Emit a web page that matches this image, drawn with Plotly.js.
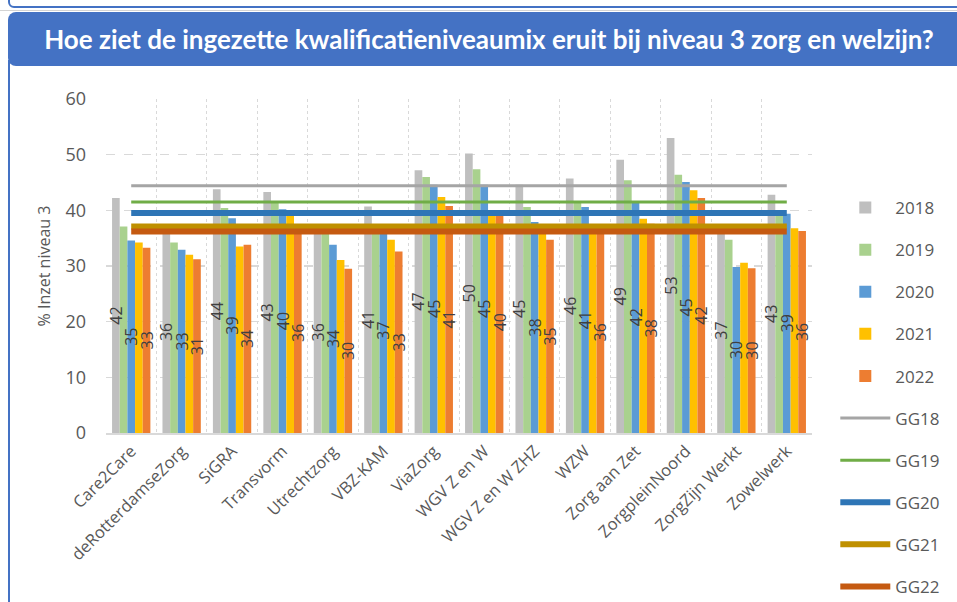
<!DOCTYPE html>
<html>
<head>
<meta charset="utf-8">
<script src="https://cdn.plot.ly/plotly-3.0.1.min.js"></script>
<style>
  html, body { margin: 0; padding: 0; background: #ffffff; }
  #wrap { position: relative; width: 957px; height: 602px; overflow: hidden; background: #ffffff; }
  #topbox { position: absolute; left: 8px; top: -12px; width: 970px; height: 16px; border: 2px solid #4472C4; border-radius: 6px; }
  #sep { position: absolute; left: 0; top: 10px; width: 957px; height: 1px; background: #D4D4D4; }
  #banner { position: absolute; left: 8px; top: 12px; width: 960px; height: 54px; background: #4472C4; border-radius: 8px 0 0 8px; }
  #leftline { position: absolute; left: 8px; top: 60px; width: 2px; height: 560px; background: #4472C4; }
  #chart { position: absolute; left: 0; top: 0; width: 957px; height: 700px; }
</style>
</head>
<body>
<div id="wrap">
  <div id="topbox"></div>
  <div id="sep"></div>
  <div id="banner"></div>
  <div id="leftline"></div>
  <div id="chart"></div>
</div>
<script>
const categories = ["Care2Care", "deRotterdamseZorg", "SiGRA", "Transvorm", "Utrechtzorg", "VBZ-KAM", "ViaZorg",
  "WGV Z en W", "WGV Z en W ZHZ", "WZW", "Zorg aan Zet", "ZorgpleinNoord", "ZorgZijn Werkt", "Zowelwerk"];

const v2018 = [42.2, 36.3, 43.8, 43.3, 36.2, 40.7, 47.2, 50.2, 44.6, 45.7, 49.1, 53.0, 36.8, 42.8];
const v2019 = [37.1, 34.2, 40.4, 41.6, 36.0, 36.5, 46.0, 47.4, 40.6, 41.5, 45.4, 46.4, 34.7, 39.8];
const v2020 = [34.6, 32.9, 38.6, 40.2, 33.8, 36.8, 44.6, 44.6, 37.9, 40.6, 41.6, 45.1, 29.8, 39.4];
const v2021 = [34.2, 32.0, 33.5, 39.0, 31.1, 34.7, 42.4, 39.4, 36.5, 36.5, 38.5, 43.6, 30.6, 36.8];
const v2022 = [33.3, 31.2, 33.8, 36.0, 29.5, 32.6, 40.8, 39.8, 34.7, 36.2, 37.6, 42.2, 29.6, 36.3];

const ggNames = ["GG18", "GG19", "GG20", "GG21", "GG22"];
const ggValues = [44.4, 41.5, 39.5, 37.1, 36.2];

const yTicks = [0, 10, 20, 30, 40, 50, 60];

const barSeries = [
  {name: "2018", y: v2018, color: "#BFBFBF", label: true},
  {name: "2019", y: v2019, color: "#A9D18E", label: false},
  {name: "2020", y: v2020, color: "#5B9BD5", label: true},
  {name: "2021", y: v2021, color: "#FFC000", label: false},
  {name: "2022", y: v2022, color: "#ED7D31", label: true}
];
const ggStyles = [
  {color: "#A5A5A5", width: 3},
  {color: "#70AD47", width: 3},
  {color: "#2E75B6", width: 6},
  {color: "#BF9000", width: 6},
  {color: "#C55A11", width: 6}
];

const FONT = "Open Sans, sans-serif";
const H = 700;          // drawing height (page shows the top 602 px)
const traces = [];
// visible bars
barSeries.forEach((s, i) => {
  traces.push({
    type: "bar", name: s.name, x: categories, y: s.y,
    marker: {color: s.color}, legendgroup: "g" + i,
    textposition: "none", xaxis: "x", yaxis: "y"
  });
});
// GG reference lines
ggNames.forEach((n, i) => {
  traces.push({
    type: "scatter", mode: "lines", name: n,
    x: [categories[0], categories[categories.length - 1]],
    y: [ggValues[i], ggValues[i]],
    line: {color: ggStyles[i].color, width: ggStyles[i].width},
    legendgroup: "l" + i, xaxis: "x", yaxis: "y"
  });
});
// value labels drawn on an overlaid axis so they sit above all bars
barSeries.forEach((s, i) => {
  const t = {
    type: "bar", name: s.name + " label", x: categories, y: s.y,
    marker: {color: "rgba(0,0,0,0)"}, showlegend: false,
    xaxis: "x2", yaxis: "y"
  };
  if (s.label) {
    t.texttemplate = "%{y:.0f}";
    t.textposition = "inside";
    t.insidetextanchor = "middle";
    t.textangle = -90;
    t.constraintext = "none";
    t.textfont = {family: FONT, size: 16, color: "#404040"};
  } else {
    t.textposition = "none";
  }
  traces.push(t);
});

const layout = {
  width: 957, height: H,
  paper_bgcolor: "rgba(0,0,0,0)", plot_bgcolor: "rgba(0,0,0,0)",
  margin: {l: 106, r: 138, t: 99, b: H - 433},
  title: {
    text: "Hoe ziet de ingezette kwalificatieniveaumix eruit bij niveau 3 zorg en welzijn?",
    font: {family: "Lato, sans-serif", size: 26, color: "#ffffff", weight: "bold"},
    x: 0.511, xanchor: "center", xref: "container",
    y: 1 - 40 / H, yanchor: "middle", yref: "container"
  },
  barmode: "group", bargap: 0.24, bargroupgap: 0,
  xaxis: {
    type: "category", tickangle: -45, tickson: "boundaries",
    showgrid: true, gridcolor: "#D9D9D9", griddash: "dot", gridwidth: 1,
    showline: true, linecolor: "#D9D9D9", linewidth: 2,
    ticks: "", ticklen: 0,
    tickfont: {family: FONT, size: 16.5, color: "#595959"},
    automargin: false
  },
  xaxis2: {
    type: "category", overlaying: "x", matches: "x", visible: false, showgrid: false
  },
  yaxis: {
    range: [0, 60], tickvals: yTicks, ticktext: yTicks.map(String),
    showgrid: true, gridcolor: "#D9D9D9", griddash: "dash", gridwidth: 1.5,
    zeroline: false, showline: false, ticks: "", ticklabelstandoff: 19,
    tickfont: {family: FONT, size: 18, color: "#595959"},
    title: {text: "% Inzet niveau 3", font: {family: FONT, size: 16, color: "#595959"}, standoff: 10},
    automargin: false
  },
  showlegend: true,
  legend: {
    x: 1.033, xanchor: "left", y: 1 - (190 - 99) / 334, yanchor: "top",
    font: {family: FONT, size: 17, color: "#595959"},
    traceorder: "grouped", tracegroupgap: 17, itemwidth: 50,
    maxheight: 520,
    bgcolor: "rgba(0,0,0,0)"
  }
};

Plotly.newPlot("chart", traces, layout, {displayModeBar: false, staticPlot: true});
</script>
</body>
</html>
